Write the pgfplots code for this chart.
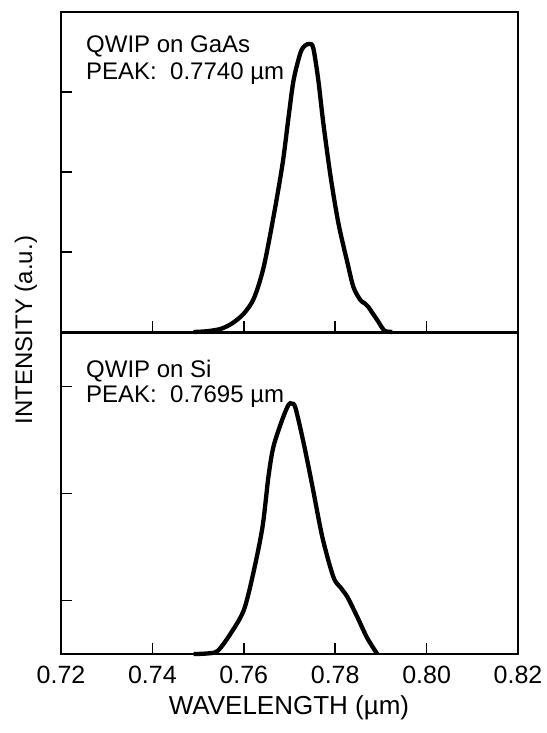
\documentclass[border=0pt]{standalone}
\usepackage{fontspec}
\setmainfont{Liberation Sans}
\usepackage{pgfplots}
\pgfplotsset{compat=1.18}
\begin{document}
\begin{tikzpicture}[every node/.style={font=\fontsize{24}{28}\selectfont}]
\useasboundingbox (0pt,0pt) rectangle (546pt,733pt);
\pgfplotsset{
  panel/.style={
    scale only axis, width=457pt,
    xmin=0.72, xmax=0.82, ymin=0,
    axis line style={line width=2.8pt},
    tick align=inside, xtick pos=bottom, ytick pos=left,
    major tick length=11pt,
    tick style={line width=1.5pt, black},
    xtick={0.74,0.76,0.78,0.80},
    anchor=south west,
    clip=false,
  }
}
% top panel
\begin{axis}[panel, at={(61pt,401pt)}, height=320pt, ymax=4,
  ytick={1,2,3}, yticklabels={}, xticklabels={}]
\addplot[line width=4.3pt, smooth, tension=0.5] coordinates {
(0.749,0) (0.752,0.01) (0.7550,0.04) (0.7575,0.11) (0.7600,0.23) (0.7622,0.42)
(0.7643,0.80) (0.7665,1.44) (0.7685,2.11) (0.7698,2.69) (0.7709,3.15)
(0.7724,3.49) (0.7734,3.58) (0.7744,3.60) (0.7752,3.55) (0.7763,3.15)
(0.7774,2.61) (0.7790,1.94) (0.7807,1.36) (0.7827,0.86) (0.7840,0.56)
(0.7855,0.40) (0.7864,0.36) (0.7873,0.31) (0.7881,0.24) (0.7892,0.15)
(0.7903,0.05) (0.7910,0.01) (0.7925,0)
};
\end{axis}
% bottom panel
\begin{axis}[panel, at={(61pt,79pt)}, height=321pt, ymax=3,
  ytick={0.5,1.5,2.5}, yticklabels={},
  xtick={0.72,0.74,0.76,0.78,0.80,0.82},
  xticklabels={0.72,0.74,0.76,0.78,0.80,0.82},
  xticklabel style={yshift=-9pt, font=\fontsize{25}{29}\selectfont}]
\addplot[line width=4.3pt, smooth, tension=0.5] coordinates {
(0.7490,0) (0.7520,0.005) (0.7543,0.03) (0.7571,0.19) (0.7600,0.41)
(0.7621,0.76) (0.7641,1.19) (0.7654,1.66) (0.7665,1.94) (0.7685,2.20)
(0.7698,2.33) (0.7705,2.34) (0.7713,2.30) (0.7731,1.97) (0.7750,1.57)
(0.7772,1.09) (0.7796,0.72) (0.7812,0.62) (0.7827,0.53) (0.7849,0.34)
(0.7870,0.15) (0.7892,0)
};
\end{axis}
% texts
\node[anchor=base west, inner sep=0pt] at (86pt,680pt) {QWIP on GaAs};
\node[anchor=base west, inner sep=0pt] at (86pt,653pt) {PEAK:\ \ 0.7740 µm};
\node[anchor=base west, inner sep=0pt] at (86pt,355pt) {QWIP on Si};
\node[anchor=base west, inner sep=0pt] at (86pt,330pt) {PEAK:\ \ 0.7695 µm};
\node[rotate=90, inner sep=0pt] at (26pt,403pt) {INTENSITY (a.u.)};
\node[inner sep=0pt, font=\fontsize{26}{30}\selectfont] at (289pt,25pt) {WAVELENGTH (µm)};
\end{tikzpicture}
\end{document}
